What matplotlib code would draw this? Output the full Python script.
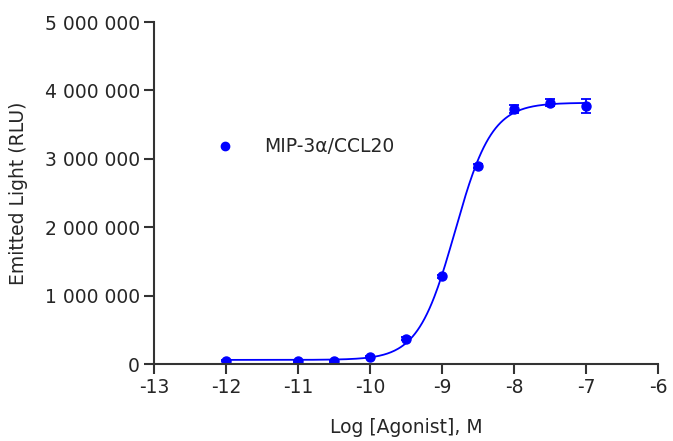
import numpy as np
import matplotlib.pyplot as plt
from matplotlib.ticker import FuncFormatter

plt.rcParams["font.family"] = ["DejaVu Sans"]
plt.rcParams["axes.unicode_minus"] = False

# Données
log_agonist = [-12, -11, -10.5, -10, -9.5, -9, -8.5, -8, -7.5, -7]
light = [50000, 45000, 45000, 100000, 370000, 1280000, 2900000, 3730000, 3820000, 3770000]
light_err = [10000, 10000, 10000, 15000, 20000, 20000, 30000, 60000, 50000, 100000]
series_name = "MIP-3α/CCL20"

# Paramètres de l'ajustement sigmoïde (4 paramètres) estimés sur l'image
bottom = 60000
top = 3820000
log_ec50 = -8.82
hill = 1.7

x_fit = np.linspace(-12, -7, 300)
y_fit = bottom + (top - bottom) / (1 + 10 ** ((log_ec50 - x_fit) * hill))

fig = plt.figure(figsize=(6.73, 4.41), dpi=100)
ax = fig.add_axes([0.2288, 0.1746, 0.749, 0.7754])

blue = "#0000ff"
text_color = "#262626"
ax.plot(x_fit, y_fit, color=blue, linewidth=1.3)
ax.errorbar(log_agonist, light, yerr=light_err, fmt="o", color=blue,
            markersize=6.5, capsize=3.5, elinewidth=1.3, capthick=1.3)

# Légende : marqueur seul
ax.plot([], [], "o", color=blue, markersize=6, label=series_name)

ax.set_xlim(-13, -6)
ax.set_ylim(0, 5000000)
ax.set_xticks(np.arange(-13, -5, 1))
ax.set_yticks(np.arange(0, 5000001, 1000000))
ax.yaxis.set_major_formatter(
    FuncFormatter(lambda v, _: f"{int(v):,}".replace(",", " ")))

for side in ["top", "right"]:
    ax.spines[side].set_visible(False)
for side in ["left", "bottom"]:
    ax.spines[side].set_color("#333333")
    ax.spines[side].set_linewidth(1.5)
ax.tick_params(direction="out", length=7, width=1.5, color="#333333",
               labelsize=13.5, labelcolor=text_color, pad=3)

ax.set_xlabel("Log [Agonist], M", fontsize=13.5, color=text_color, labelpad=15)
ax.set_ylabel("Emitted Light (RLU)", fontsize=13.5, color=text_color, labelpad=12)

leg = ax.legend(loc="center left", bbox_to_anchor=(0.085, 0.635), frameon=False,
                fontsize=13.5, handletextpad=1.5, handlelength=1.2)
for t in leg.get_texts():
    t.set_color(text_color)

fig.savefig("out.png", dpi=100)
